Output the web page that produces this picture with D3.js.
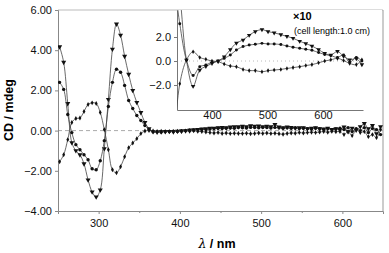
<!DOCTYPE html>
<html>
<head>
<meta charset="utf-8">
<script src="https://cdn.jsdelivr.net/npm/d3@7"></script>
<style>
  body { margin: 0; background: #fff; }
  svg { display: block; font-family: "Liberation Sans", Arial, sans-serif; }
</style>
</head>
<body>
<svg id="chart" width="389" height="253"></svg>
<script>
// main spectrum: sampled every 5 nm from 252 nm
let wavelengths = d3.range(252, 650, 5);

let seriesTri = [4.17, 3.4, 1.35, -0.6, -1.0, -1.2, -1.65, -2.45, -3.05, -3.3, -2.95, -0.9, 1.55, 4.05, 5.3, 4.75, 3.7, 2.8, 2.0, 1.4, 0.9, 0.4, 0.1,
  -0.05, -0.08, -0.06, -0.05, -0.04, -0.06, -0.03, -0.02, 0.0, 0.02, 0.05, 0.06, 0.08, 0.1, 0.12, 0.12, 0.14, 0.16, 0.15, 0.18, 0.2, 0.2, 0.22, 0.2,
  0.24, 0.22, 0.23, 0.2, 0.22, 0.2, 0.3, 0.18, 0.15, 0.18, 0.16, 0.12, 0.15, 0.14, 0.1, 0.12, 0.15, 0.1, 0.08, 0.12, 0.06, 0.1, 0.05, 0.18, -0.05,
  0.12, 0.02, 0.2, 0.35, 0.1, 0.25, -0.15, 0.2];

let seriesDot = [2.4, 2.05, 0.8, -0.1, -0.7, -0.95, -1.2, -1.45, -1.9, -1.95, -1.5, -0.5, 1.2, 2.4, 3.05, 2.9, 2.25, 1.5, 1.1, 0.75, 0.5, 0.25, 0.05,
  -0.06, -0.05, -0.07, -0.04, -0.05, -0.03, -0.04, -0.01, 0.0, 0.03, 0.02, 0.05, 0.06, 0.05, 0.08, 0.1, 0.12, 0.1, 0.12, 0.13, 0.12, 0.15, 0.14, 0.13,
  0.16, 0.15, 0.14, 0.16, 0.15, 0.13, 0.16, 0.14, 0.12, 0.14, 0.12, 0.14, 0.1, 0.12, 0.1, 0.08, 0.12, 0.1, 0.06, 0.1, 0.05, 0.08, 0.12, 0.05, 0.15,
  -0.05, 0.1, 0.0, 0.15, -0.1, 0.1, 0.05, -0.2];

let seriesDia = [-1.55, -1.2, -0.45, 0.4, 0.6, 0.63, 0.95, 1.3, 1.38, 1.35, 0.9, 0.05, -0.95, -1.95, -2.1, -1.8, -1.3, -0.85, -0.62, -0.4, -0.15, -0.02, 0.0,
  -0.02, -0.04, -0.03, -0.05, -0.04, -0.05, -0.03, -0.04, -0.02, -0.03, -0.01, -0.04, -0.05, -0.07, -0.1, -0.12, -0.1, -0.14, -0.12, -0.15, -0.13, -0.14, -0.15, -0.13,
  -0.16, -0.14, -0.12, -0.14, -0.12, -0.15, -0.13, -0.16, -0.18, -0.14, -0.12, -0.13, -0.1, -0.12, -0.1, -0.08, -0.1, -0.07, -0.05, -0.08, -0.04, -0.06, -0.05, -0.2, -0.05,
  -0.25, 0.05, -0.1, -0.05, -0.3, -0.2, -0.35, 0.05];

// inset (x10, 1.0 cm cell)
let insetWavelengths = [331, 342, 354, 366, 378, 389, 400, 411, 422, 433, 444, 456, 467, 478, 490, 501, 512, 524, 535, 546, 558, 569, 580, 592, 603, 614, 626, 637, 648, 660, 670];
let insetTri = [9, 5.5, 0.08, -2.1, -0.75, -0.45, -0.2, 0.0, 0.36, 0.95, 1.5, 1.75, 2.15, 2.45, 2.62, 2.45, 2.35, 2.2, 2.05, 1.9, 1.65, 1.45, 1.25, 0.95, 0.65, 0.5, 0.8, 0.4, 0.1, 0.2, -0.3];
let insetDot = [7, 3.1, 0.08, -1.2, -0.47, -0.33, -0.1, 0.0, 0.22, 0.5, 0.92, 1.2, 1.33, 1.39, 1.47, 1.42, 1.42, 1.37, 1.25, 1.15, 1.06, 0.98, 0.9, 0.7, 0.55, 0.45, 0.3, 0.5, -0.1, 0.3, 0.0];
let insetDia = [-7, -1.9, 0.08, 0.78, 0.3, 0.14, 0.0, -0.05, -0.25, -0.42, -0.47, -0.7, -0.8, -0.8, -0.9, -0.8, -0.75, -0.7, -0.62, -0.55, -0.47, -0.38, -0.3, -0.15, 0.0, 0.1, 0.22, 0.05, -0.2, -0.3, 0.1];

let yTicks = [-4, -2, 0, 2, 4, 6];
let xTicks = [300, 400, 500, 600];
let insetYTicks = [-2, 0, 2];
let insetXTicks = [400, 500, 600];

let svg = d3.select('#chart');

let x = d3.scaleLinear().domain([250, 650]).range([58, 383]);
let y = d3.scaleLinear().domain([-4, 6]).range([211, 10]);

// frame
svg.append('line').attr('x1', 58).attr('x2', 383).attr('y1', 10).attr('y2', 10)
  .attr('stroke', '#bbb').attr('stroke-width', 1);
svg.append('line').attr('x1', 383).attr('x2', 383).attr('y1', 10).attr('y2', 211)
  .attr('stroke', '#999').attr('stroke-width', 1);

// zero line
svg.append('line').attr('x1', x(250)).attr('x2', x(650)).attr('y1', y(0)).attr('y2', y(0))
  .attr('stroke', '#aaa').attr('stroke-dasharray', '4,3').attr('stroke-width', 1);

// axes
let yAxis = svg.append('g').attr('transform', 'translate(58,0)')
  .call(d3.axisLeft(y).tickValues(yTicks).tickFormat(d3.format('.2f')).tickSize(3));
let xAxis = svg.append('g').attr('transform', 'translate(0,211)')
  .call(d3.axisBottom(x).tickValues(xTicks).tickFormat(d3.format('d')).tickSize(3));
svg.append('g').attr('transform', 'translate(0,211)')
  .call(d3.axisBottom(x).tickValues([350, 450, 550]).tickFormat('').tickSize(2))
  .call(g => g.select('.domain').remove());

svg.selectAll('.domain').attr('stroke', '#888');
svg.selectAll('.tick line').attr('stroke', '#888');
svg.selectAll('.tick text').attr('font-size', 11).attr('fill', '#111')
  .attr('font-family', '"Liberation Sans", Arial, sans-serif');
xAxis.selectAll('.tick text').attr('dy', '0.9em');

// titles
svg.append('text').attr('transform', 'translate(13,110) rotate(-90)')
  .attr('text-anchor', 'middle').attr('font-size', 12.5).attr('font-weight', 'bold')
  .text('CD / mdeg');
let xt = svg.append('text').attr('x', 217).attr('y', 248).attr('text-anchor', 'middle')
  .attr('font-size', 12.5).attr('font-weight', 'bold');
xt.append('tspan').attr('font-style', 'italic').attr('font-weight', 'normal').attr('font-family', '"DejaVu Serif", serif').text('λ');
xt.append('tspan').text(' / nm');

// main curves
let clipMain = svg.append('clipPath').attr('id', 'clip-main');
clipMain.append('rect').attr('x', 58).attr('y', 10).attr('width', 325).attr('height', 201);

let mainLine = d3.line()
  .x((d, i) => x(wavelengths[i]))
  .y(d => y(d))
  .curve(d3.curveCatmullRom.alpha(0.5));

let gMain = svg.append('g').attr('clip-path', 'url(#clip-main)');
let mainSeries = [
  {values: seriesTri, sym: d3.symbolTriangle, size: 11, rot: 180},
  {values: seriesDot, sym: d3.symbolCircle, size: 9, rot: 0},
  {values: seriesDia, sym: d3.symbolDiamond, size: 7, rot: 0}
];
mainSeries.forEach(s => {
  gMain.append('path').datum(s.values).attr('d', mainLine)
    .attr('fill', 'none').attr('stroke', '#444').attr('stroke-width', 0.8);
  gMain.selectAll(null).data(s.values).join('path')
    .attr('d', d3.symbol(s.sym, s.size))
    .attr('transform', (d, i) => `translate(${x(wavelengths[i])},${y(d)}) rotate(${s.rot})`)
    .attr('fill', '#111');
});

// inset
let xi = d3.scaleLinear().domain([337, 672]).range([177, 363]);
let yi = d3.scaleLinear().domain([-4.08, 4.25]).range([110, 10]);

let inset = svg.append('g');
inset.append('rect').attr('x', 177).attr('y', 10).attr('width', 205).attr('height', 100).attr('fill', '#fff');
inset.append('line').attr('x1', xi(337)).attr('x2', xi(672)).attr('y1', yi(0)).attr('y2', yi(0))
  .attr('stroke', '#bbb').attr('stroke-dasharray', '1,3').attr('stroke-width', 1);

let iy = inset.append('g').attr('transform', 'translate(177,0)')
  .call(d3.axisLeft(yi).tickValues(insetYTicks).tickFormat(d3.format('.1f')).tickSize(3).tickSizeOuter(0));
let ix = inset.append('g').attr('transform', 'translate(0,110)')
  .call(d3.axisBottom(xi).tickValues(insetXTicks).tickFormat(d3.format('d')).tickSize(0).tickSizeOuter(0));
inset.selectAll('.domain').attr('stroke', '#777');
inset.selectAll('.tick line').attr('stroke', '#777');
inset.selectAll('.tick text').attr('font-size', 11).attr('fill', '#111')
  .attr('font-family', '"Liberation Sans", Arial, sans-serif');
ix.selectAll('.tick text').attr('dy', '0.55em');

let clipInset = svg.append('clipPath').attr('id', 'clip-inset');
clipInset.append('rect').attr('x', 177).attr('y', 10).attr('width', 190).attr('height', 100);

let insetLine = d3.line()
  .x((d, i) => xi(insetWavelengths[i]))
  .y(d => yi(d))
  .curve(d3.curveCatmullRom.alpha(0.5));

let gInset = inset.append('g').attr('clip-path', 'url(#clip-inset)');
let insetSeries = [
  {values: insetTri, sym: d3.symbolTriangle, size: 9, rot: 180},
  {values: insetDot, sym: d3.symbolCircle, size: 7, rot: 0},
  {values: insetDia, sym: d3.symbolDiamond, size: 6, rot: 0}
];
insetSeries.forEach(s => {
  gInset.append('path').datum(s.values).attr('d', insetLine)
    .attr('fill', 'none').attr('stroke', '#444').attr('stroke-width', 0.8);
  gInset.selectAll(null).data(s.values).join('path')
    .attr('d', d3.symbol(s.sym, s.size))
    .attr('transform', (d, i) => `translate(${xi(insetWavelengths[i])},${yi(d)}) rotate(${s.rot})`)
    .attr('fill', '#111');
});

inset.append('text').attr('x', 293).attr('y', 20).attr('font-size', 11).attr('font-weight', 'bold')
  .text('×10');
inset.append('text').attr('x', 294).attr('y', 34).attr('font-size', 9)
  .text('(cell length:1.0 cm)');
</script>
</body>
</html>
